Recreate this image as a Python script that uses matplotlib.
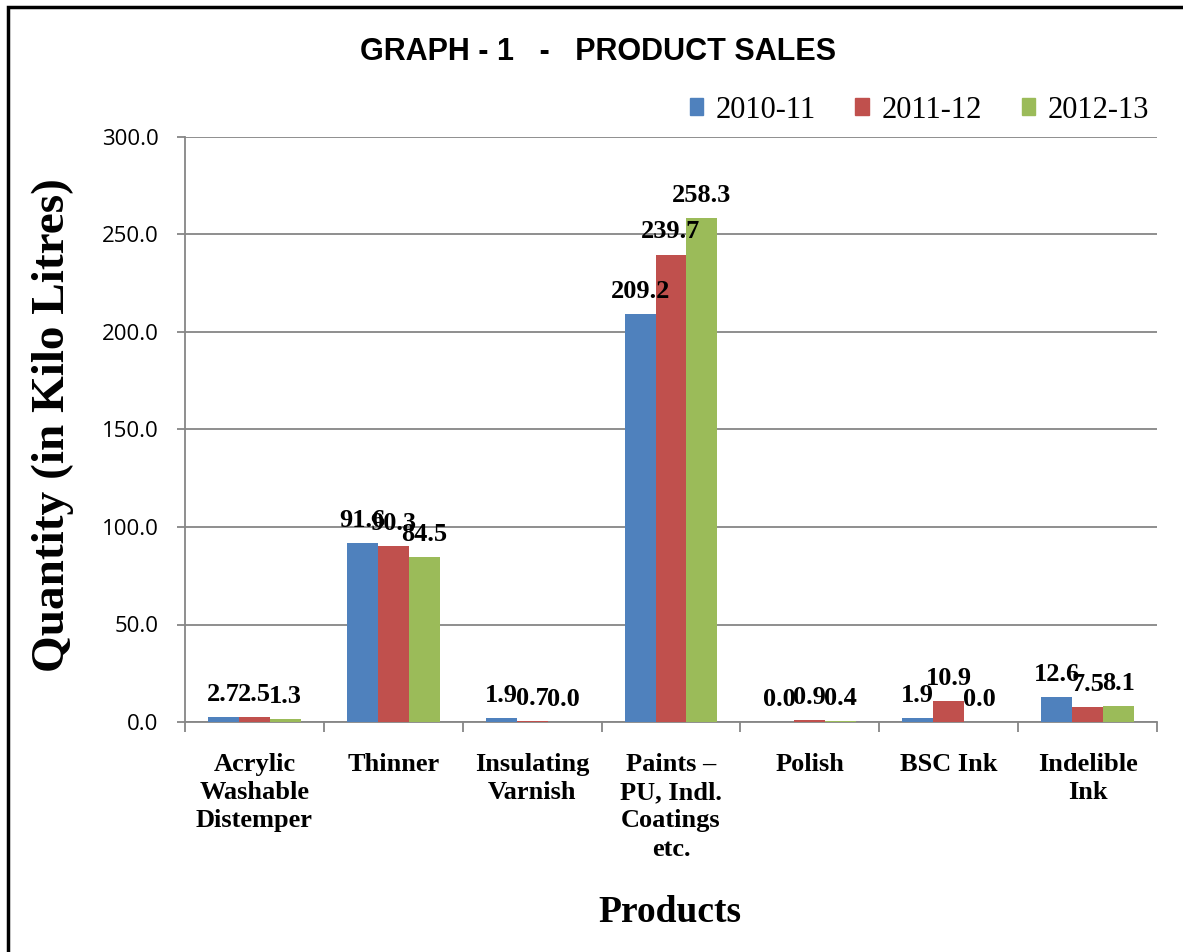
import numpy as np
import matplotlib.pyplot as plt
from matplotlib.patches import Patch, Rectangle

# data
products = ['Acrylic\nWashable\nDistemper', 'Thinner', 'Insulating\nVarnish',
            'Paints \u2013\nPU, Indl.\nCoatings\netc.', 'Polish', 'BSC Ink', 'Indelible\nInk']
years = ['2010-11', '2011-12', '2012-13']
sales_2010 = [2.7, 91.6, 1.9, 209.2, 0.0, 1.9, 12.6]
sales_2011 = [2.5, 90.3, 0.7, 239.7, 0.9, 10.9, 7.5]
sales_2012 = [1.3, 84.5, 0.0, 258.3, 0.4, 0.0, 8.1]
yticks = [0, 50, 100, 150, 200, 250, 300]

colors = ['#4F81BD', '#C0504D', '#9BBB59']
serif = ['Liberation Serif', 'DejaVu Serif']
sans = ['Liberation Sans', 'DejaVu Sans']

W, H = 1183, 952
fig = plt.figure(figsize=(W / 100, H / 100), dpi=100)
ax = fig.add_axes([185 / W, 1 - 722 / H, (1157 - 185) / W, (722 - 137) / H])

x = np.arange(len(products))
bw = 1 / 4.5
series = [sales_2010, sales_2011, sales_2012]
for i, vals in enumerate(series):
    pos = x + (i - 1) * bw
    ax.bar(pos, vals, bw, color=colors[i], zorder=3)
    for xp, v in zip(pos, vals):
        ax.annotate(f'{v:.1f}', (xp, v), xytext=(0, 8), textcoords='offset points',
                    ha='center', va='bottom', fontsize=19, fontweight='bold',
                    family=serif, zorder=4)

ax.set_xlim(-0.5, len(products) - 0.5)
ax.set_ylim(0, 300)
ax.set_yticks(yticks)
ax.set_yticklabels([f'{t:.1f}' for t in yticks], fontsize=16, family=['Open Sans', 'DejaVu Sans'])
ax.yaxis.grid(True, color='#868686', lw=1.3, zorder=0)
ax.tick_params(axis='y', direction='out', length=6, color='#868686', width=1.3, pad=13)

ax.set_xticks(x)
ax.set_xticklabels(products, fontsize=19, fontweight='bold', family=serif, va='top',
                   linespacing=1.3)
ax.set_xticks(np.arange(-0.5, len(products)), minor=True)
ax.tick_params(axis='x', which='major', length=0, pad=22)
ax.tick_params(axis='x', which='minor', direction='out', length=7, color='#868686', width=1.3)

for s in ['top', 'right']:
    ax.spines[s].set_visible(False)
for s in ['left', 'bottom']:
    ax.spines[s].set_color('#868686')
    ax.spines[s].set_linewidth(1.3)

ax.set_ylabel('Quantity (in Kilo Litres)', fontsize=34, fontweight='bold', family=serif)
ax.yaxis.set_label_coords((74 - 185) / (1157 - 185), (722 - 425) / (722 - 137))
fig.text(670 / W, 1 - 912 / H, 'Products', fontsize=27, fontweight='bold', family=serif,
         ha='center', va='center')
fig.text(598 / W, 1 - 52 / H, 'GRAPH - 1   -   PRODUCT SALES', fontsize=22, fontweight='bold',
         family=sans, ha='center', va='center')

handles = [Patch(color=c) for c in colors]
fig.legend(handles, years, loc='center right', bbox_to_anchor=(1149 / W, 1 - 110 / H),
           ncol=3, frameon=False, prop={'family': serif, 'size': 22},
           handlelength=0.45, handleheight=0.45, handletextpad=0.4, columnspacing=1.3,
           borderpad=0, borderaxespad=0)

# outer border (runs off the right and bottom edges)
fig.patches.append(Rectangle((8 / W, -0.1), 1.2, 1 - 7 / H + 0.1, transform=fig.transFigure,
                             fill=False, edgecolor='black', lw=2.5))

fig.savefig('out.png', dpi=100)
